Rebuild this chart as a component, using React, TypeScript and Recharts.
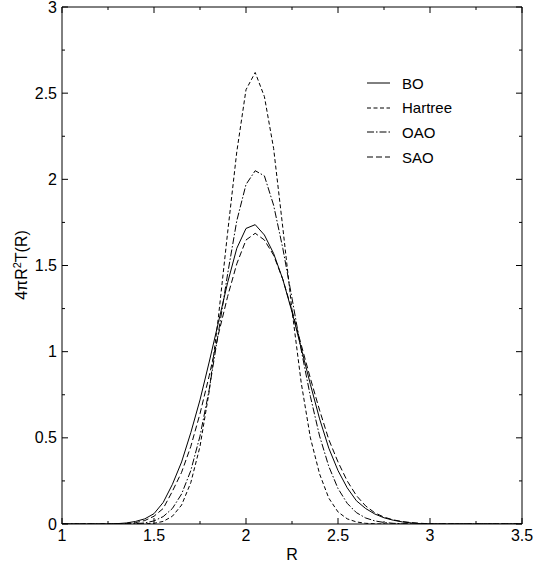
import { LineChart, Line, XAxis, YAxis, Legend, Label } from 'recharts';

const R = [
  1.0, 1.05, 1.1, 1.15, 1.2, 1.25, 1.3, 1.35, 1.4, 1.45,
  1.5, 1.55, 1.6, 1.65, 1.7, 1.75, 1.8, 1.85, 1.9, 1.95,
  2.0, 2.05, 2.1, 2.15, 2.2, 2.25, 2.3, 2.35, 2.4, 2.45,
  2.5, 2.55, 2.6, 2.65, 2.7, 2.75, 2.8, 2.85, 2.9, 2.95,
  3.0, 3.05, 3.1, 3.15, 3.2, 3.25, 3.3, 3.35, 3.4, 3.45, 3.5,
];

const BO = [
  0, 0, 0, 0, 0, 0, 0.002, 0.006, 0.015, 0.03,
  0.06, 0.125, 0.23, 0.36, 0.53, 0.72, 0.94, 1.17, 1.4, 1.6,
  1.715, 1.737, 1.677, 1.57, 1.42, 1.23, 1.02, 0.81, 0.61, 0.44,
  0.31, 0.21, 0.135, 0.09, 0.058, 0.036, 0.022, 0.012, 0.006, 0.002,
  0, 0, 0, 0, 0, 0, 0, 0, 0, 0, 0,
];

const HARTREE = [
  0, 0, 0, 0, 0, 0, 0, 0, 0, 0.001,
  0.004, 0.015, 0.045, 0.11, 0.24, 0.45, 0.77, 1.2, 1.69, 2.16,
  2.52, 2.62, 2.48, 2.18, 1.72, 1.24, 0.82, 0.5, 0.29, 0.15,
  0.07, 0.03, 0.012, 0.004, 0.001, 0, 0, 0, 0, 0,
  0, 0, 0, 0, 0, 0, 0, 0, 0, 0, 0,
];

const OAO = [
  0, 0, 0, 0, 0, 0, 0, 0, 0.002, 0.006,
  0.018, 0.043, 0.09, 0.174, 0.31, 0.51, 0.78, 1.11, 1.45, 1.76,
  1.97, 2.05, 2.02, 1.85, 1.6, 1.31, 1.01, 0.74, 0.51, 0.334,
  0.206, 0.12, 0.066, 0.035, 0.018, 0.009, 0.004, 0.002, 0, 0,
  0, 0, 0, 0, 0, 0, 0, 0, 0, 0, 0,
];

const SAO = [
  0, 0, 0, 0, 0, 0, 0, 0.003, 0.008, 0.02,
  0.045, 0.09, 0.19, 0.3, 0.45, 0.64, 0.86, 1.1, 1.32, 1.51,
  1.648, 1.687, 1.648, 1.56, 1.42, 1.24, 1.04, 0.845, 0.66, 0.49,
  0.36, 0.25, 0.165, 0.105, 0.065, 0.04, 0.024, 0.014, 0.008, 0.004,
  0.001, 0, 0, 0, 0, 0, 0, 0, 0, 0, 0,
];

const X_TICKS = [1, 1.25, 1.5, 1.75, 2, 2.25, 2.5, 2.75, 3, 3.25, 3.5];
const Y_TICKS = [0, 0.25, 0.5, 0.75, 1, 1.25, 1.5, 1.75, 2, 2.25, 2.5, 2.75, 3];

const SERIES = [
  { key: 'bo', name: 'BO', dash: undefined },
  { key: 'hartree', name: 'Hartree', dash: '4 2.5' },
  { key: 'oao', name: 'OAO', dash: '7 2 1.5 2' },
  { key: 'sao', name: 'SAO', dash: '6 3' },
];

const data = R.map((r, i) => ({ r, bo: BO[i], hartree: HARTREE[i], oao: OAO[i], sao: SAO[i] }));

const FONT = 'Liberation Sans, Arial, Helvetica, sans-serif';
const isMajor = (v: number) => Math.abs(v * 2 - Math.round(v * 2)) < 1e-9;

function BottomTick({ x, y, payload }: any) {
  const major = isMajor(payload.value);
  return (
    <g>
      <line x1={x} x2={x} y1={y} y2={y - (major ? 6 : 3)} stroke="#000" />
      {major && (
        <text x={x} y={y + 17} textAnchor="middle" fontSize={16} fontFamily={FONT} fill="#000">
          {String(payload.value)}
        </text>
      )}
    </g>
  );
}

function TopTick({ x, y, payload }: any) {
  const major = isMajor(payload.value);
  return <line x1={x} x2={x} y1={y} y2={y + (major ? 6 : 3)} stroke="#000" />;
}

function LeftTick({ x, y, payload }: any) {
  const major = isMajor(payload.value);
  return (
    <g>
      <line x1={x} x2={x + (major ? 6 : 3)} y1={y} y2={y} stroke="#000" />
      {major && (
        <text x={x - 5} y={y + 5.5} textAnchor="end" fontSize={16} fontFamily={FONT} fill="#000">
          {String(payload.value)}
        </text>
      )}
    </g>
  );
}

function RightTick({ x, y, payload }: any) {
  const major = isMajor(payload.value);
  return <line x1={x} x2={x - (major ? 6 : 3)} y1={y} y2={y} stroke="#000" />;
}

function YTitle() {
  return (
    <text transform="translate(27,265) rotate(-90)" textAnchor="middle" fontSize={16} fontFamily={FONT} fill="#000">
      4πR
      <tspan dy={-6} fontSize={11}>2</tspan>
      <tspan dy={6}>T(R)</tspan>
    </text>
  );
}

function XTitle() {
  return (
    <text x={292} y={560} textAnchor="middle" fontSize={16} fontFamily={FONT} fill="#000">
      R
    </text>
  );
}

function LegendBox() {
  return (
    <div style={{ fontFamily: FONT, fontSize: 15, color: '#000' }}>
      {SERIES.map((s) => (
        <div key={s.key} style={{ display: 'flex', alignItems: 'center', height: 24.6 }}>
          <svg width={36} height={10} style={{ display: 'block' }}>
            <line x1={1} x2={24} y1={5} y2={5} stroke="#000" strokeDasharray={s.dash} />
          </svg>
          <span>{s.name}</span>
        </div>
      ))}
    </div>
  );
}

export default function App() {
  return (
    <div style={{ position: 'absolute', left: 0, top: 0, background: '#fff' }}>
      <LineChart width={535} height={568} data={data} margin={{ top: 6, right: 12, left: 0, bottom: 0 }}>
        <XAxis
          xAxisId="bottom"
          dataKey="r"
          type="number"
          domain={[1, 3.5]}
          ticks={X_TICKS}
          height={44}
          tickSize={0}
          tickMargin={0}
          tickLine={false}
          axisLine={{ stroke: '#000' }}
          tick={<BottomTick />}
          interval={0}
          allowDataOverflow
        >
          <Label content={<XTitle />} />
        </XAxis>
        <XAxis
          xAxisId="top"
          orientation="top"
          dataKey="r"
          type="number"
          domain={[1, 3.5]}
          ticks={X_TICKS}
          height={1}
          tickSize={0}
          tickMargin={0}
          tickLine={false}
          axisLine={{ stroke: '#000' }}
          tick={<TopTick />}
          interval={0}
          allowDataOverflow
        />
        <YAxis
          yAxisId="left"
          type="number"
          domain={[0, 3]}
          ticks={Y_TICKS}
          width={62}
          tickSize={0}
          tickMargin={0}
          tickLine={false}
          axisLine={{ stroke: '#000' }}
          tick={<LeftTick />}
          interval={0}
          allowDataOverflow
        >
          <Label content={<YTitle />} />
        </YAxis>
        <YAxis
          yAxisId="right"
          orientation="right"
          type="number"
          domain={[0, 3]}
          ticks={Y_TICKS}
          width={1}
          tickSize={0}
          tickMargin={0}
          tickLine={false}
          axisLine={{ stroke: '#000' }}
          tick={<RightTick />}
          interval={0}
          allowDataOverflow
        />
        <Legend
          layout="vertical"
          verticalAlign="middle"
          align="center"
          wrapperStyle={{ left: 366, top: 71, width: 130 }}
          content={<LegendBox />}
        />
        {SERIES.map((s) => (
          <Line
            key={s.key}
            xAxisId="bottom"
            yAxisId="left"
            type="linear"
            dataKey={s.key}
            name={s.name}
            stroke="#000"
            strokeWidth={1}
            strokeDasharray={s.dash}
            dot={false}
            activeDot={false}
            isAnimationActive={false}
          />
        ))}
      </LineChart>
    </div>
  );
}
